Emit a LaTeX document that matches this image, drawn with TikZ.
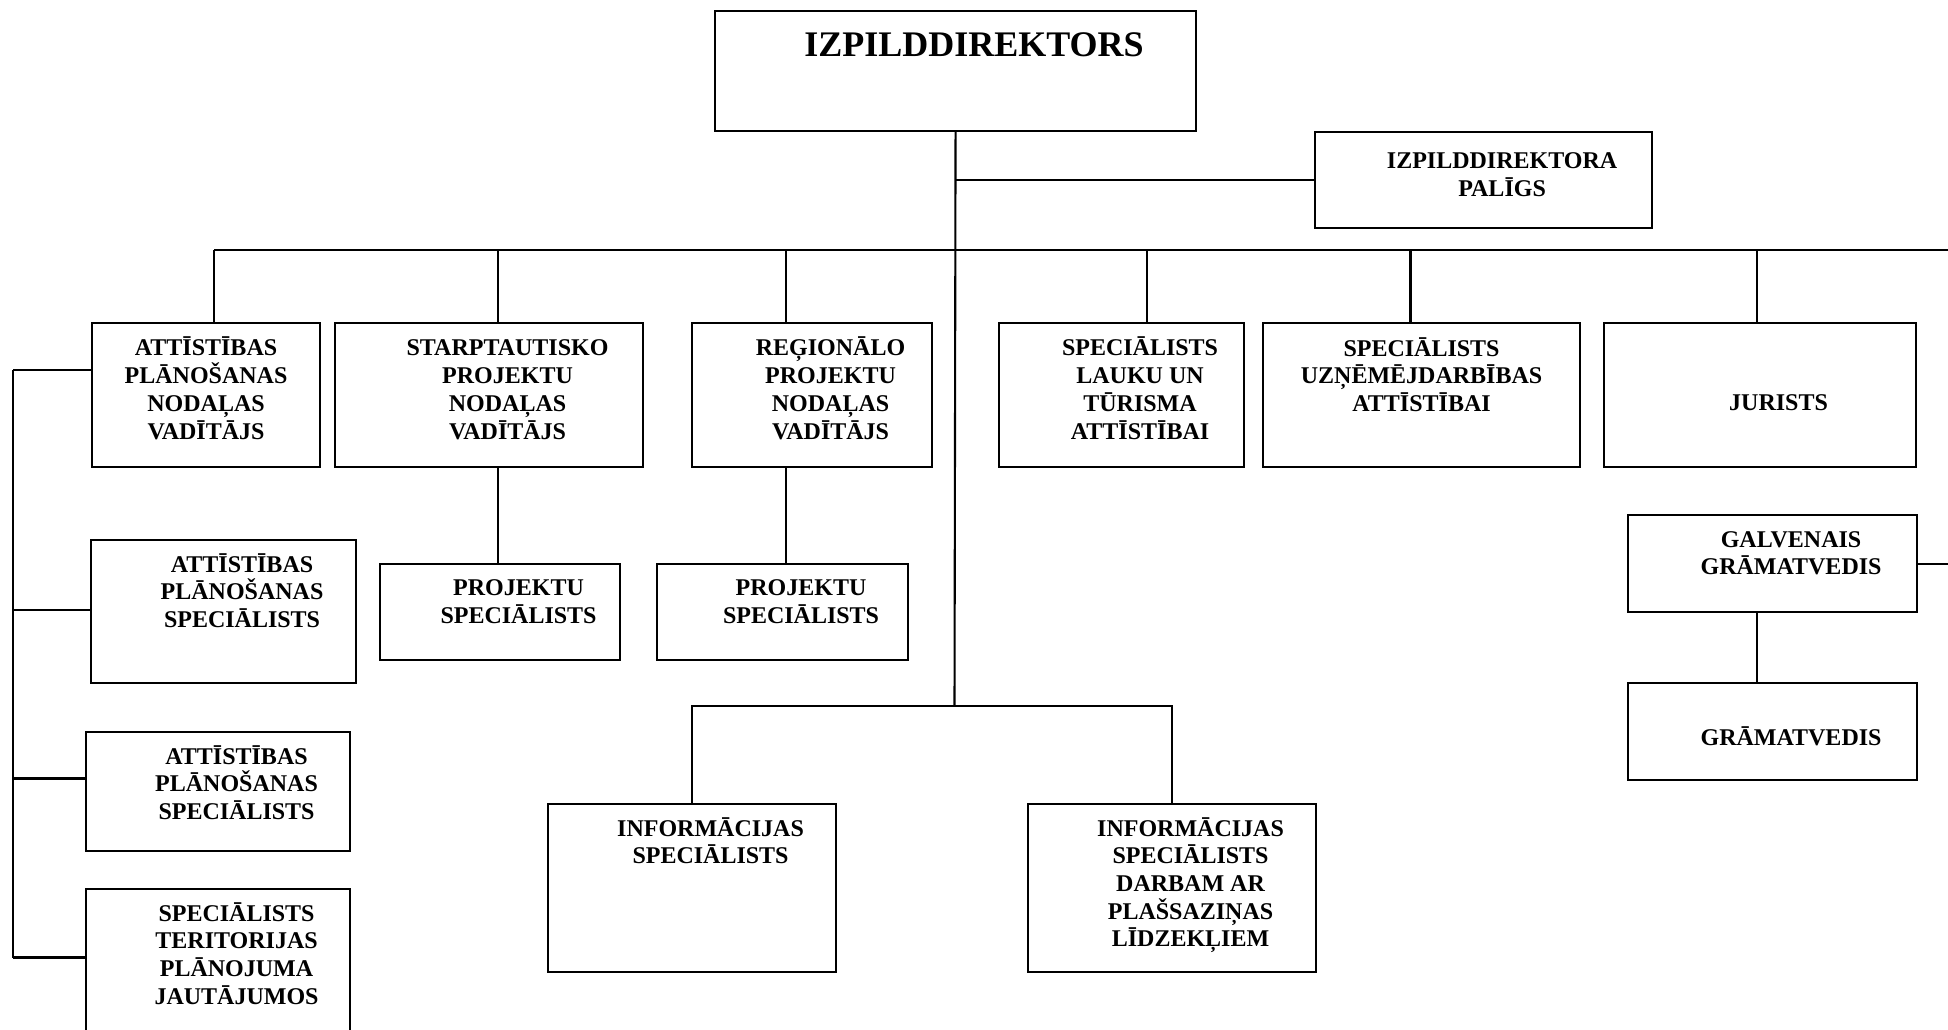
\documentclass[tikz,border=0pt]{standalone}
\usepackage{fontspec}
\setmainfont{Liberation Serif}
\usetikzlibrary{calc}
\tikzset{
  unit/.style={draw, line width=2.1pt, inner sep=0pt, anchor=north west},
  caption/.style={font=\fontsize{24}{27.7}\selectfont\bfseries, align=center, anchor=base, inner sep=0pt},
  wire/.style={line width=2.1pt}
}

\begin{document}
\begin{tikzpicture}[x=1pt,y=-1pt]
    \useasboundingbox (0,0) rectangle (1948,1029);

    % boxes
    \node[unit, minimum width=481, minimum height=120] (dir) at (714,10) {};
    \node[unit, minimum width=337, minimum height=96] (pal) at (1314,130.5) {};
    \node[unit, minimum width=228, minimum height=144] (b1) at (91,322) {};
    \node[unit, minimum width=308, minimum height=144] (b2) at (334,322) {};
    \node[unit, minimum width=240, minimum height=144] (b3) at (691,322) {};
    \node[unit, minimum width=245, minimum height=144] (b4) at (998,322) {};
    \node[unit, minimum width=317, minimum height=144] (b5) at (1262,322) {};
    \node[unit, minimum width=312, minimum height=144] (b6) at (1603,322) {};
    \node[unit, minimum width=265, minimum height=143] (l1) at (90,539) {};
    \node[unit, minimum width=264, minimum height=119] (l2) at (85,731) {};
    \node[unit, minimum width=264, minimum height=200] (l3) at (85,888) {};
    \node[unit, minimum width=240, minimum height=96] (p1) at (379,562.5) {};
    \node[unit, minimum width=251, minimum height=96] (p2) at (656,562.5) {};
    \node[unit, minimum width=288, minimum height=168] (info1) at (547,803) {};
    \node[unit, minimum width=288, minimum height=168] (info2) at (1027,803) {};
    \node[unit, minimum width=289, minimum height=97] (galv) at (1627,514) {};
    \node[unit, minimum width=289, minimum height=97] (gram) at (1627,682) {};

    % texts (base = last line)
    \node[caption, font=\fontsize{36}{40}\selectfont\bfseries] (dirtxt) at ([xshift=18.5pt,yshift=-46.7pt]dir.north) {IZPILDDIREKTORS};
    \node[caption] (paltxt) at ([xshift=18.5pt,yshift=-66pt]pal.north) {IZPILDDIREKTORA\\PALĪGS};
    \node[caption] (b1txt) at ([yshift=-117pt]b1.north) {ATTĪSTĪBAS\\PLĀNOŠANAS\\NODAĻAS\\VADĪTĀJS};
    \node[caption] (b2txt) at ([xshift=18.5pt,yshift=-117pt]b2.north) {STARPTAUTISKO\\PROJEKTU\\NODAĻAS\\VADĪTĀJS};
    \node[caption] (b3txt) at ([xshift=18.5pt,yshift=-117pt]b3.north) {REĢIONĀLO\\PROJEKTU\\NODAĻAS\\VADĪTĀJS};
    \node[caption] (b4txt) at ([xshift=18.5pt,yshift=-117pt]b4.north) {SPECIĀLISTS\\LAUKU UN\\TŪRISMA\\ATTĪSTĪBAI};
    \node[caption] (b5txt) at ([yshift=-89.4pt]b5.north) {SPECIĀLISTS\\UZŅĒMĒJDARBĪBAS\\ATTĪSTĪBAI};
    \node[caption] (b6txt) at ([xshift=18.5pt,yshift=-88.7pt]b6.north) {JURISTS};
    \node[caption] (l1txt) at ([xshift=18.5pt,yshift=-88.4pt]l1.north) {ATTĪSTĪBAS\\PLĀNOŠANAS\\SPECIĀLISTS};
    \node[caption] (l2txt) at ([xshift=18.5pt,yshift=-88.4pt]l2.north) {ATTĪSTĪBAS\\PLĀNOŠANAS\\SPECIĀLISTS};
    \node[caption] (l3txt) at ([xshift=18.5pt,yshift=-116.1pt]l3.north) {SPECIĀLISTS\\TERITORIJAS\\PLĀNOJUMA\\JAUTĀJUMOS};
    \node[caption] (p1txt) at ([xshift=18.5pt,yshift=-60.7pt]p1.north) {PROJEKTU\\SPECIĀLISTS};
    \node[caption] (p2txt) at ([xshift=18.5pt,yshift=-60.7pt]p2.north) {PROJEKTU\\SPECIĀLISTS};
    \node[caption] (info1txt) at ([xshift=18.5pt,yshift=-60.7pt]info1.north) {INFORMĀCIJAS\\SPECIĀLISTS};
    \node[caption] (info2txt) at ([xshift=18.5pt,yshift=-143.8pt]info2.north) {INFORMĀCIJAS\\SPECIĀLISTS\\DARBAM AR\\PLAŠSAZIŅAS\\LĪDZEKĻIEM};
    \node[caption] (galvtxt) at ([xshift=18.5pt,yshift=-60.7pt]galv.north) {GALVENAIS\\GRĀMATVEDIS};
    \node[caption] (gramtxt) at ([xshift=18.5pt,yshift=-63pt]gram.north) {GRĀMATVEDIS};

    % bus points
    \coordinate (t1) at (214,250);
    \coordinate (t2) at (498,250);
    \coordinate (t3) at (786,250);
    \coordinate (t4) at (1147,250);
    \coordinate (t5) at (1410.5,250);
    \coordinate (t6) at (1757,250);
    \coordinate (tend) at (1948,250);
    \coordinate (infojoin) at (954.5,706);
    \coordinate (lb1) at (13,370);
    \coordinate (lb2) at (13,610);
    \coordinate (lb3) at (13,778.5);
    \coordinate (lb4) at (13,957.5);
    \coordinate (gend) at (1948,562.5);

    % connectors
    \draw[wire] (t1) -- (tend);
    \draw[wire] (dir.south) -- (infojoin);
    \draw[wire] (dir.south |- pal.west) -- (pal.west);
    \foreach \t/\b in {t1/b1, t2/b2, t3/b3, t4/b4, t5/b5, t6/b6}
      \draw[wire] (\t) -- (\t |- \b.north);
    \draw[wire] (t2 |- b2.south) -- (t2 |- p1.north);
    \draw[wire] (t3 |- b3.south) -- (t3 |- p2.north);
    \draw[wire] (info1.north) |- (infojoin) -| (info2.north);
    \draw[wire] (lb1) -- (lb4);
    \draw[wire] (lb1) -- (lb1 -| b1.west);
    \draw[wire] (lb2) -- (lb2 -| l1.west);
    \draw[wire] (lb3) -- (lb3 -| l2.west);
    \draw[wire] (lb4) -- (lb4 -| l3.west);
    \draw[wire] (galv.east) -- (galv.east -| gend);
    \draw[wire] (t6 |- galv.south) -- (t6 |- gram.north);
\end{tikzpicture}
\end{document}
